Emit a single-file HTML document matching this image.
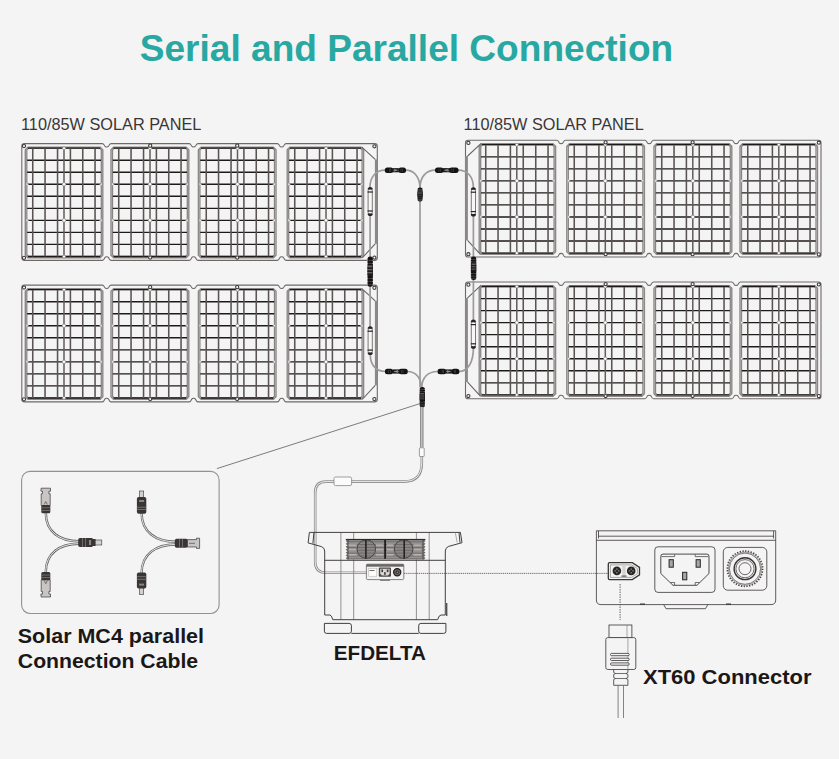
<!DOCTYPE html><html><head><meta charset="utf-8"><style>
html,body{margin:0;padding:0;background:#f4f4f4;overflow:hidden;}
svg{display:block;}
.mo{fill:none;stroke:#8d8888;stroke-width:1.4;}
.mi{fill:none;stroke:#8a8585;stroke-width:1.3;}
.gh{fill:none;stroke:#1f1a1a;stroke-width:1.35;}
.gv{fill:none;stroke:#5a5454;stroke-width:1.55;}
.gc{fill:none;stroke:#625c5c;stroke-width:1.5;}
.nk{fill:#f8f8f8;stroke:#9a9595;stroke-width:0.5;}
.nd{fill:#fafafa;stroke:#8a8585;stroke-width:0.7;}
.fr{fill:none;stroke:#6e6969;stroke-width:1.1;}
.jb{fill:none;stroke:#6a6565;stroke-width:1.1;}
.jb2{fill:none;stroke:#8d8888;stroke-width:2.8;}
.gr{fill:#f4f4f4;stroke:#3a3535;stroke-width:1.05;}
.cb{fill:none;stroke:#9b9b9b;stroke-width:1.7;}
.ln{fill:none;stroke:#555;stroke-width:0.8;}
text{font-family:"Liberation Sans",sans-serif;}
</style></head><body>
<svg width="839" height="759" viewBox="0 0 839 759">
<rect width="839" height="759" fill="#f4f4f4"/>
<text x="139.78" y="61" font-size="36.5" font-weight="bold" fill="#28a8a2" textLength="533.41" lengthAdjust="spacingAndGlyphs">Serial and Parallel Connection</text>
<text x="21.01" y="130" font-size="15.7" fill="#3a3636" textLength="180.33" lengthAdjust="spacingAndGlyphs">110/85W SOLAR PANEL</text>
<text x="463.56" y="130" font-size="15.7" fill="#3a3636" textLength="180.18" lengthAdjust="spacingAndGlyphs">110/85W SOLAR PANEL</text>
<g id="pnl">
<path d="M24.4,143.6 L102.5,143.6 C103.7,143.6 104.1,144.6 104.8,146.1 C105.4,147.3 108,147.3 108.6,146.1 C109.3,144.6 109.7,143.6 110.9,143.6 L189.4,143.6 C190.6,143.6 191,144.6 191.7,146.1 C192.3,147.3 194.9,147.3 195.5,146.1 C196.2,144.6 196.6,143.6 197.8,143.6 L277.5,143.6 C278.7,143.6 279.1,144.6 279.8,146.1 C280.4,147.3 283,147.3 283.6,146.1 C284.3,144.6 284.7,143.6 285.9,143.6 L374.7,143.6 Q377.3,143.6 377.3,146.2 L377.3,257.8 Q377.3,260.4 374.7,260.4 L285.9,260.4 C284.7,260.4 284.3,259.4 283.6,257.7 C283,256.5 280.4,256.5 279.8,257.7 C279.1,259.4 278.7,260.4 277.5,260.4 L197.8,260.4 C196.6,260.4 196.2,259.4 195.5,257.7 C194.9,256.5 192.3,256.5 191.7,257.7 C191,259.4 190.6,260.4 189.4,260.4 L110.9,260.4 C109.7,260.4 109.3,259.4 108.6,257.7 C108,256.5 105.4,256.5 104.8,257.7 C104.1,259.4 103.7,260.4 102.5,260.4 L24.4,260.4 Q21.8,260.4 21.8,257.8 L21.8,146.2 Q21.8,143.6 24.4,143.6 Z" class="fr"/>
<path d="M27.9,147.2 L100.2,147.2 L102.8,149.8 L102.8,255.2 L100.2,257.8 L27.9,257.8 L25.3,255.2 L25.3,149.8 Z" class="mo"/>
<path d="M28.5,148.2 L99.6,148.2 L101.3,149.9 L101.3,254.8 L99.6,256.5 L28.5,256.5 L26.8,254.8 L26.8,149.9 Z" class="mi"/>
<path d="M27.1,160.2 H101 M27.1,172.23 H101 M27.1,184.26 H101 M27.1,196.29 H101 M27.1,208.32 H101 M27.1,220.35 H101 M27.1,232.38 H101 M27.1,244.41 H101 M27.9,148.05 H100.2 M27.9,256.45 H100.2" class="gh"/>
<path d="M32.75,148.6 V256.4 M45.05,148.6 V256.4 M57.55,148.6 V256.4 M70.4,148.6 V256.4 M82.75,148.6 V256.4 M95.05,148.6 V256.4" class="gv"/>
<path d="M64,148.6 V256.4" class="gc"/>
<circle cx="64" cy="148.2" r="1.5" class="nd"/>
<circle cx="64" cy="256.5" r="1.5" class="nd"/>
<circle cx="64" cy="184.26" r="1.8" class="nd"/>
<path d="M26.2,182.66 L28.7,184.26 L26.2,185.86 Z M101.9,182.66 L99.4,184.26 L101.9,185.86 Z" class="nk"/>
<circle cx="64" cy="220.35" r="1.8" class="nd"/>
<path d="M26.2,218.75 L28.7,220.35 L26.2,221.95 Z M101.9,218.75 L99.4,220.35 L101.9,221.95 Z" class="nk"/>
<path d="M113.6,147.2 L186.2,147.2 L188.8,149.8 L188.8,255.2 L186.2,257.8 L113.6,257.8 L111,255.2 L111,149.8 Z" class="mo"/>
<path d="M114.2,148.2 L185.6,148.2 L187.3,149.9 L187.3,254.8 L185.6,256.5 L114.2,256.5 L112.5,254.8 L112.5,149.9 Z" class="mi"/>
<path d="M112.8,160.2 H187 M112.8,172.23 H187 M112.8,184.26 H187 M112.8,196.29 H187 M112.8,208.32 H187 M112.8,220.35 H187 M112.8,232.38 H187 M112.8,244.41 H187 M113.6,148.05 H186.2 M113.6,256.45 H186.2" class="gh"/>
<path d="M118.75,148.6 V256.4 M131.05,148.6 V256.4 M143.55,148.6 V256.4 M156.4,148.6 V256.4 M168.75,148.6 V256.4 M181.05,148.6 V256.4" class="gv"/>
<path d="M150,148.6 V256.4" class="gc"/>
<circle cx="150" cy="148.2" r="1.5" class="nd"/>
<circle cx="150" cy="256.5" r="1.5" class="nd"/>
<circle cx="150" cy="184.26" r="1.8" class="nd"/>
<path d="M111.9,182.66 L114.4,184.26 L111.9,185.86 Z M187.9,182.66 L185.4,184.26 L187.9,185.86 Z" class="nk"/>
<circle cx="150" cy="220.35" r="1.8" class="nd"/>
<path d="M111.9,218.75 L114.4,220.35 L111.9,221.95 Z M187.9,218.75 L185.4,220.35 L187.9,221.95 Z" class="nk"/>
<path d="M201,147.2 L273.4,147.2 L276,149.8 L276,255.2 L273.4,257.8 L201,257.8 L198.4,255.2 L198.4,149.8 Z" class="mo"/>
<path d="M201.6,148.2 L272.8,148.2 L274.5,149.9 L274.5,254.8 L272.8,256.5 L201.6,256.5 L199.9,254.8 L199.9,149.9 Z" class="mi"/>
<path d="M200.2,160.2 H274.2 M200.2,172.23 H274.2 M200.2,184.26 H274.2 M200.2,196.29 H274.2 M200.2,208.32 H274.2 M200.2,220.35 H274.2 M200.2,232.38 H274.2 M200.2,244.41 H274.2 M201,148.05 H273.4 M201,256.45 H273.4" class="gh"/>
<path d="M206.25,148.6 V256.4 M218.55,148.6 V256.4 M231.05,148.6 V256.4 M243.9,148.6 V256.4 M256.25,148.6 V256.4 M268.55,148.6 V256.4" class="gv"/>
<path d="M237.5,148.6 V256.4" class="gc"/>
<circle cx="237.5" cy="148.2" r="1.5" class="nd"/>
<circle cx="237.5" cy="256.5" r="1.5" class="nd"/>
<circle cx="237.5" cy="184.26" r="1.8" class="nd"/>
<path d="M199.3,182.66 L201.8,184.26 L199.3,185.86 Z M275.1,182.66 L272.6,184.26 L275.1,185.86 Z" class="nk"/>
<circle cx="237.5" cy="220.35" r="1.8" class="nd"/>
<path d="M199.3,218.75 L201.8,220.35 L199.3,221.95 Z M275.1,218.75 L272.6,220.35 L275.1,221.95 Z" class="nk"/>
<path d="M289.8,147.2 L361,147.2 L363.6,149.8 L363.6,255.2 L361,257.8 L289.8,257.8 L287.2,255.2 L287.2,149.8 Z" class="mo"/>
<path d="M290.4,148.2 L360.4,148.2 L362.1,149.9 L362.1,254.8 L360.4,256.5 L290.4,256.5 L288.7,254.8 L288.7,149.9 Z" class="mi"/>
<path d="M289,160.2 H361.8 M289,172.23 H361.8 M289,184.26 H361.8 M289,196.29 H361.8 M289,208.32 H361.8 M289,220.35 H361.8 M289,232.38 H361.8 M289,244.41 H361.8 M289.8,148.05 H361 M289.8,256.45 H361" class="gh"/>
<path d="M294.75,148.6 V256.4 M307.05,148.6 V256.4 M319.55,148.6 V256.4 M332.4,148.6 V256.4 M344.75,148.6 V256.4 M357.05,148.6 V256.4" class="gv"/>
<path d="M326,148.6 V256.4" class="gc"/>
<circle cx="326" cy="148.2" r="1.5" class="nd"/>
<circle cx="326" cy="256.5" r="1.5" class="nd"/>
<circle cx="326" cy="184.26" r="1.8" class="nd"/>
<path d="M288.1,182.66 L290.6,184.26 L288.1,185.86 Z M362.7,182.66 L360.2,184.26 L362.7,185.86 Z" class="nk"/>
<circle cx="326" cy="220.35" r="1.8" class="nd"/>
<path d="M288.1,218.75 L290.6,220.35 L288.1,221.95 Z M362.7,218.75 L360.2,220.35 L362.7,221.95 Z" class="nk"/>
<path d="M376.3,159.4 V243.8" class="jb2"/>
<path d="M361.6,146.8 L375.2,159.4 M375.2,243.8 L362.2,258.0" class="jb"/>
<circle cx="24" cy="146.1" r="1.6" class="gr"/>
<circle cx="24" cy="257.8" r="1.6" class="gr"/>
<circle cx="150.2" cy="145.7" r="1.6" class="gr"/>
<circle cx="150.2" cy="257.6" r="1.6" class="gr"/>
<circle cx="237.2" cy="145.7" r="1.6" class="gr"/>
<circle cx="237.2" cy="257.6" r="1.6" class="gr"/>
<circle cx="374.4" cy="146.3" r="1.6" class="gr"/>
<circle cx="374.4" cy="257.6" r="1.6" class="gr"/>
</g>
<use href="#pnl" transform="translate(0,141.5)"/>
<use href="#pnl" transform="translate(842.8,-3.4) scale(-1,1)"/>
<use href="#pnl" transform="translate(842.8,138.4) scale(-1,1)"/>
<path d="M369.9,188 C369.9,177 375.5,170.2 385.5,170.2" class="cb"/>
<path d="M405.5,170.2 C414.5,170.2 420,177.5 420,188" class="cb"/>
<path d="M435.5,170.2 C425.5,170.2 420,177.5 420,188" class="cb"/>
<path d="M458,170.2 C467.5,170.2 473.4,176.5 473.4,188" class="cb"/>
<path d="M420,201 V387.5" class="cb"/>
<path d="M370.1,215 V257 M370.1,286 V327" class="cb"/>
<path d="M473.4,215 V257 M473.4,280 V320" class="cb"/>
<path d="M370.2,354 C370.2,365 376,371.5 385.5,371.5" class="cb"/>
<path d="M407.5,371.5 C415.5,371.5 421.2,377.5 421.2,387.5" class="cb"/>
<path d="M437.5,371.5 C428,371.5 421.8,377.5 421.8,387.5" class="cb"/>
<path d="M459,371.5 C468,371.5 473.4,362 473.4,348" class="cb"/>
<rect x="384.8" y="167.5" width="8.48" height="5.4" rx="2.5" fill="#151212"/>
<rect x="398.37" y="167.5" width="7.63" height="5.4" rx="2.5" fill="#151212"/>
<rect x="392.43" y="168.1" width="6.36" height="4.2" fill="#1e1a1a"/>
<rect x="389.04" y="168.6" width="0.5" height="3.2" fill="#5a5555"/>
<rect x="390.52" y="168.6" width="0.5" height="3.2" fill="#5a5555"/>
<rect x="400.7" y="168.6" width="0.5" height="3.2" fill="#5a5555"/>
<rect x="402.18" y="168.6" width="0.5" height="3.2" fill="#5a5555"/>
<path d="M393.92,169 L396.46,170.2 L393.92,171.4" fill="none" stroke="#a09c9c" stroke-width="0.7"/>
<rect x="393.28" y="169.8" width="4.24" height="0.8" fill="#a09c9c"/>
<rect x="449.1" y="167.5" width="9.4" height="5.4" rx="2.5" fill="#151212"/>
<rect x="435" y="167.5" width="8.46" height="5.4" rx="2.5" fill="#151212"/>
<rect x="442.99" y="168.1" width="7.05" height="4.2" fill="#1e1a1a"/>
<rect x="453.3" y="168.6" width="0.5" height="3.2" fill="#5a5555"/>
<rect x="451.65" y="168.6" width="0.5" height="3.2" fill="#5a5555"/>
<rect x="440.38" y="168.6" width="0.5" height="3.2" fill="#5a5555"/>
<rect x="438.73" y="168.6" width="0.5" height="3.2" fill="#5a5555"/>
<path d="M448.39,169 L445.57,170.2 L448.39,171.4" fill="none" stroke="#a09c9c" stroke-width="0.7"/>
<rect x="444.4" y="169.8" width="4.7" height="0.8" fill="#a09c9c"/>
<rect x="398.64" y="368.8" width="9.16" height="5.4" rx="2.5" fill="#151212"/>
<rect x="384.9" y="368.8" width="8.24" height="5.4" rx="2.5" fill="#151212"/>
<rect x="392.69" y="369.4" width="6.87" height="4.2" fill="#1e1a1a"/>
<rect x="402.72" y="369.9" width="0.5" height="3.2" fill="#5a5555"/>
<rect x="401.12" y="369.9" width="0.5" height="3.2" fill="#5a5555"/>
<rect x="390.12" y="369.9" width="0.5" height="3.2" fill="#5a5555"/>
<rect x="388.52" y="369.9" width="0.5" height="3.2" fill="#5a5555"/>
<path d="M397.95,370.3 L395.2,371.5 L397.95,372.7" fill="none" stroke="#a09c9c" stroke-width="0.7"/>
<rect x="394.06" y="371.1" width="4.58" height="0.8" fill="#a09c9c"/>
<rect x="437.5" y="368.8" width="8.76" height="5.4" rx="2.5" fill="#151212"/>
<rect x="451.52" y="368.8" width="7.88" height="5.4" rx="2.5" fill="#151212"/>
<rect x="445.38" y="369.4" width="6.57" height="4.2" fill="#1e1a1a"/>
<rect x="441.88" y="369.9" width="0.5" height="3.2" fill="#5a5555"/>
<rect x="443.41" y="369.9" width="0.5" height="3.2" fill="#5a5555"/>
<rect x="453.92" y="369.9" width="0.5" height="3.2" fill="#5a5555"/>
<rect x="455.46" y="369.9" width="0.5" height="3.2" fill="#5a5555"/>
<path d="M446.92,370.3 L449.55,371.5 L446.92,372.7" fill="none" stroke="#a09c9c" stroke-width="0.7"/>
<rect x="446.26" y="371.1" width="4.38" height="0.8" fill="#a09c9c"/>
<rect x="417.4" y="187.4" width="5.4" height="14.2" rx="2.5" fill="#151212"/>
<rect x="418" y="191.66" width="4.2" height="4.54" fill="#6a6565"/>
<rect x="417.4" y="192.51" width="5.4" height="0.94" fill="#1e1a1a"/>
<rect x="417.4" y="193.93" width="5.4" height="0.94" fill="#1e1a1a"/>
<rect x="417.4" y="195.35" width="5.4" height="0.94" fill="#1e1a1a"/>
<rect x="418.2" y="189.1" width="3.8" height="0.6" fill="#5a5555"/>
<rect x="417.4" y="189" width="0.5" height="0.8" fill="#f4f4f4"/><rect x="422.3" y="189" width="0.5" height="0.8" fill="#f4f4f4"/>
<rect x="418.2" y="190.52" width="3.8" height="0.6" fill="#5a5555"/>
<rect x="417.4" y="190.42" width="0.5" height="0.8" fill="#f4f4f4"/><rect x="422.3" y="190.42" width="0.5" height="0.8" fill="#f4f4f4"/>
<rect x="418.2" y="197.62" width="3.8" height="0.6" fill="#5a5555"/>
<rect x="417.4" y="197.52" width="0.5" height="0.8" fill="#f4f4f4"/><rect x="422.3" y="197.52" width="0.5" height="0.8" fill="#f4f4f4"/>
<rect x="418.2" y="199.04" width="3.8" height="0.6" fill="#5a5555"/>
<rect x="417.4" y="198.94" width="0.5" height="0.8" fill="#f4f4f4"/><rect x="422.3" y="198.94" width="0.5" height="0.8" fill="#f4f4f4"/>
<rect x="418.2" y="200.32" width="3.8" height="0.6" fill="#5a5555"/>
<rect x="417.4" y="200.22" width="0.5" height="0.8" fill="#f4f4f4"/><rect x="422.3" y="200.22" width="0.5" height="0.8" fill="#f4f4f4"/>
<rect x="419.6" y="386.9" width="5.4" height="20.7" rx="2.5" fill="#151212"/>
<rect x="420.2" y="393.11" width="4.2" height="6.62" fill="#6a6565"/>
<rect x="419.6" y="394.35" width="5.4" height="1.23" fill="#1e1a1a"/>
<rect x="419.6" y="396.42" width="5.4" height="1.23" fill="#1e1a1a"/>
<rect x="419.6" y="398.49" width="5.4" height="1.23" fill="#1e1a1a"/>
<rect x="420.4" y="389.38" width="3.8" height="0.6" fill="#5a5555"/>
<rect x="419.6" y="389.28" width="0.5" height="0.8" fill="#f4f4f4"/><rect x="424.5" y="389.28" width="0.5" height="0.8" fill="#f4f4f4"/>
<rect x="420.4" y="391.45" width="3.8" height="0.6" fill="#5a5555"/>
<rect x="419.6" y="391.35" width="0.5" height="0.8" fill="#f4f4f4"/><rect x="424.5" y="391.35" width="0.5" height="0.8" fill="#f4f4f4"/>
<rect x="420.4" y="401.8" width="3.8" height="0.6" fill="#5a5555"/>
<rect x="419.6" y="401.7" width="0.5" height="0.8" fill="#f4f4f4"/><rect x="424.5" y="401.7" width="0.5" height="0.8" fill="#f4f4f4"/>
<rect x="420.4" y="403.87" width="3.8" height="0.6" fill="#5a5555"/>
<rect x="419.6" y="403.77" width="0.5" height="0.8" fill="#f4f4f4"/><rect x="424.5" y="403.77" width="0.5" height="0.8" fill="#f4f4f4"/>
<rect x="420.4" y="405.74" width="3.8" height="0.6" fill="#5a5555"/>
<rect x="419.6" y="405.64" width="0.5" height="0.8" fill="#f4f4f4"/><rect x="424.5" y="405.64" width="0.5" height="0.8" fill="#f4f4f4"/>
<rect x="367.5" y="256.4" width="5.4" height="30.3" rx="2.5" fill="#151212"/>
<rect x="368.1" y="265.49" width="4.2" height="9.7" fill="#6a6565"/>
<rect x="367.5" y="267.31" width="5.4" height="1.66" fill="#1e1a1a"/>
<rect x="367.5" y="270.34" width="5.4" height="1.66" fill="#1e1a1a"/>
<rect x="367.5" y="273.37" width="5.4" height="1.66" fill="#1e1a1a"/>
<rect x="368.3" y="260.04" width="3.8" height="0.6" fill="#5a5555"/>
<rect x="367.5" y="259.94" width="0.5" height="0.8" fill="#f4f4f4"/><rect x="372.4" y="259.94" width="0.5" height="0.8" fill="#f4f4f4"/>
<rect x="368.3" y="263.07" width="3.8" height="0.6" fill="#5a5555"/>
<rect x="367.5" y="262.97" width="0.5" height="0.8" fill="#f4f4f4"/><rect x="372.4" y="262.97" width="0.5" height="0.8" fill="#f4f4f4"/>
<rect x="368.3" y="278.22" width="3.8" height="0.6" fill="#5a5555"/>
<rect x="367.5" y="278.12" width="0.5" height="0.8" fill="#f4f4f4"/><rect x="372.4" y="278.12" width="0.5" height="0.8" fill="#f4f4f4"/>
<rect x="368.3" y="281.25" width="3.8" height="0.6" fill="#5a5555"/>
<rect x="367.5" y="281.15" width="0.5" height="0.8" fill="#f4f4f4"/><rect x="372.4" y="281.15" width="0.5" height="0.8" fill="#f4f4f4"/>
<rect x="368.3" y="283.97" width="3.8" height="0.6" fill="#5a5555"/>
<rect x="367.5" y="283.87" width="0.5" height="0.8" fill="#f4f4f4"/><rect x="372.4" y="283.87" width="0.5" height="0.8" fill="#f4f4f4"/>
<rect x="470.9" y="256.4" width="5.4" height="23.6" rx="2.5" fill="#151212"/>
<rect x="471.5" y="263.48" width="4.2" height="7.55" fill="#6a6565"/>
<rect x="470.9" y="264.9" width="5.4" height="1.36" fill="#1e1a1a"/>
<rect x="470.9" y="267.26" width="5.4" height="1.36" fill="#1e1a1a"/>
<rect x="470.9" y="269.62" width="5.4" height="1.36" fill="#1e1a1a"/>
<rect x="471.7" y="259.23" width="3.8" height="0.6" fill="#5a5555"/>
<rect x="470.9" y="259.13" width="0.5" height="0.8" fill="#f4f4f4"/><rect x="475.8" y="259.13" width="0.5" height="0.8" fill="#f4f4f4"/>
<rect x="471.7" y="261.59" width="3.8" height="0.6" fill="#5a5555"/>
<rect x="470.9" y="261.49" width="0.5" height="0.8" fill="#f4f4f4"/><rect x="475.8" y="261.49" width="0.5" height="0.8" fill="#f4f4f4"/>
<rect x="471.7" y="273.39" width="3.8" height="0.6" fill="#5a5555"/>
<rect x="470.9" y="273.29" width="0.5" height="0.8" fill="#f4f4f4"/><rect x="475.8" y="273.29" width="0.5" height="0.8" fill="#f4f4f4"/>
<rect x="471.7" y="275.75" width="3.8" height="0.6" fill="#5a5555"/>
<rect x="470.9" y="275.65" width="0.5" height="0.8" fill="#f4f4f4"/><rect x="475.8" y="275.65" width="0.5" height="0.8" fill="#f4f4f4"/>
<rect x="471.7" y="277.88" width="3.8" height="0.6" fill="#5a5555"/>
<rect x="470.9" y="277.78" width="0.5" height="0.8" fill="#f4f4f4"/><rect x="475.8" y="277.78" width="0.5" height="0.8" fill="#f4f4f4"/>
<rect x="368.1" y="189" width="4.2" height="25" rx="1.8" fill="#f7f7f7" stroke="#7d7878" stroke-width="1"/>
<path d="M367.6,189.6 A2.6,2.6 0 0 1 372.8,189.6 Z" fill="#2a2525"/>
<path d="M367.6,213.4 A2.6,2.6 0 0 0 372.8,213.4 Z" fill="#2a2525"/>
<rect x="367.6" y="191.4" width="5.2" height="1.2" fill="#2a2525"/>
<rect x="367.6" y="210.4" width="5.2" height="1.2" fill="#2a2525"/>
<rect x="471.3" y="189.2" width="4.2" height="25.4" rx="1.8" fill="#f7f7f7" stroke="#7d7878" stroke-width="1"/>
<path d="M470.8,189.8 A2.6,2.6 0 0 1 476,189.8 Z" fill="#2a2525"/>
<path d="M470.8,214 A2.6,2.6 0 0 0 476,214 Z" fill="#2a2525"/>
<rect x="470.8" y="191.6" width="5.2" height="1.2" fill="#2a2525"/>
<rect x="470.8" y="211" width="5.2" height="1.2" fill="#2a2525"/>
<rect x="368.1" y="328.2" width="4.2" height="24.9" rx="1.8" fill="#f7f7f7" stroke="#7d7878" stroke-width="1"/>
<path d="M367.6,328.8 A2.6,2.6 0 0 1 372.8,328.8 Z" fill="#2a2525"/>
<path d="M367.6,352.5 A2.6,2.6 0 0 0 372.8,352.5 Z" fill="#2a2525"/>
<rect x="367.6" y="330.6" width="5.2" height="1.2" fill="#2a2525"/>
<rect x="367.6" y="349.5" width="5.2" height="1.2" fill="#2a2525"/>
<rect x="471.3" y="321.6" width="4.2" height="25.2" rx="1.8" fill="#f7f7f7" stroke="#7d7878" stroke-width="1"/>
<path d="M470.8,322.2 A2.6,2.6 0 0 1 476,322.2 Z" fill="#2a2525"/>
<path d="M470.8,346.2 A2.6,2.6 0 0 0 476,346.2 Z" fill="#2a2525"/>
<rect x="470.8" y="324" width="5.2" height="1.2" fill="#2a2525"/>
<rect x="470.8" y="343.2" width="5.2" height="1.2" fill="#2a2525"/>
<path d="M421.8,407 V463 Q421.8,481.6 404,481.6 H326 Q315.2,481.6 315.2,492.4 V562 Q315.2,572.7 326,572.7 H368" fill="none" stroke="#8f8f8f" stroke-width="2.6"/>
<path d="M421.8,407 V463 Q421.8,481.6 404,481.6 H326 Q315.2,481.6 315.2,492.4 V562 Q315.2,572.7 326,572.7 H368" fill="none" stroke="#f6f6f6" stroke-width="0.9"/>
<path d="M421.8,407 V447" fill="none" stroke="#8a8a8a" stroke-width="3.4"/>
<path d="M421.8,407 V447" fill="none" stroke="#d0d0d0" stroke-width="1.1"/>
<rect x="419.4" y="447.8" width="4.8" height="8.7" rx="0.6" fill="#fbfbfb" stroke="#8a8585" stroke-width="0.8"/>
<rect x="334" y="477" width="17.6" height="8.6" rx="1.6" fill="#fbfbfb" stroke="#8a8585" stroke-width="0.8"/>
<path d="M420,403.6 L216.9,468.6" fill="none" stroke="#4a4545" stroke-width="0.7"/>
<path d="M340.9,532.4 V619.7 M353.7,532.4 V619.7 M416.4,532.4 V619.7 M429.2,532.4 V619.7" fill="none" stroke="#8a8585" stroke-width="0.9"/>
<path d="M309.4,532.4 H460.4 M309.4,532.4 L308.1,542.9 L321.5,546.6 Q324.7,548 324.7,551 V615 H330 Q331.5,615 332.8,619.7 H437.6 Q439,615 441,615 H445.3 V551 Q445.3,548 448.3,546.5 L462,542.7 L460.4,532.4" fill="none" stroke="#3a3535" stroke-width="0.95"/>
<path d="M313.9,532.6 L312.9,543.6 M459,532.6 L460,542.6" fill="none" stroke="#3a3535" stroke-width="0.95"/>
<path d="M455.3,532.6 L457.2,542.6" fill="none" stroke="#9a9595" stroke-width="0.8"/>
<path d="M324.7,560.3 H445.3" fill="none" stroke="#3a3535" stroke-width="0.95"/>
<path d="M351.4,633.4 H418.7" fill="none" stroke="#3a3535" stroke-width="0.95"/>
<path d="M324.4,623.4 H349.2 Q351.4,623.4 351.4,625.6 V631.2 Q351.4,633.4 349.2,633.4 H326.6 Q324.4,633.4 324.4,631.2 Z" fill="none" stroke="#3a3535" stroke-width="0.95"/>
<path d="M420.9,623.4 H445.9 V631.2 Q445.9,633.4 443.7,633.4 H420.9 Q418.7,633.4 418.7,631.2 V625.6 Q418.7,623.4 420.9,623.4 Z" fill="none" stroke="#3a3535" stroke-width="0.95"/>
<rect x="446" y="603" width="1.4" height="13" fill="#555"/>
<rect x="347" y="539.4" width="77.2" height="20.2" fill="#959191"/>
<path d="M348,539.6 L345.6,541 L348,542.45 L345.6,543.85 L348,545.3 L345.6,546.7 L348,548.15 L345.6,549.55 L348,551 L345.6,552.4 L348,553.85 L345.6,555.25 L348,556.7 L345.6,558.1 L348,559.55 L349,559.6 L349,539.6 Z" fill="#6a6565"/>
<path d="M423.2,539.6 L425.6,541 L423.2,542.45 L425.6,543.85 L423.2,545.3 L425.6,546.7 L423.2,548.15 L425.6,549.55 L423.2,551 L425.6,552.4 L423.2,553.85 L425.6,555.25 L423.2,556.7 L425.6,558.1 L423.2,559.55 L422.2,559.6 L422.2,539.6 Z" fill="#6a6565"/>
<circle cx="366.3" cy="549.1" r="9.3" fill="#8a8686" stroke="#3f3a3a" stroke-width="0.9"/>
<circle cx="403.6" cy="549.1" r="9.3" fill="#8a8686" stroke="#3f3a3a" stroke-width="0.9"/>
<rect x="346.5" y="541.3" width="78.2" height="0.9" fill="#5f5a5a" opacity="0.7"/>
<rect x="346.5" y="544.15" width="78.2" height="0.9" fill="#5f5a5a" opacity="0.7"/>
<rect x="346.5" y="547" width="78.2" height="0.9" fill="#5f5a5a" opacity="0.7"/>
<rect x="346.5" y="549.85" width="78.2" height="0.9" fill="#5f5a5a" opacity="0.7"/>
<rect x="346.5" y="552.7" width="78.2" height="0.9" fill="#5f5a5a" opacity="0.7"/>
<rect x="346.5" y="555.55" width="78.2" height="0.9" fill="#5f5a5a" opacity="0.7"/>
<rect x="346.5" y="558.4" width="78.2" height="0.9" fill="#5f5a5a" opacity="0.7"/>
<rect x="348.5" y="544.5" width="8" height="1" fill="#cfcbcb"/>
<rect x="376" y="544.5" width="7.5" height="1" fill="#cfcbcb"/>
<rect x="387" y="544.5" width="6.5" height="1" fill="#cfcbcb"/>
<rect x="413.5" y="544.5" width="8" height="1" fill="#cfcbcb"/>
<rect x="348.5" y="549.4" width="8" height="1" fill="#cfcbcb"/>
<rect x="376" y="549.4" width="7.5" height="1" fill="#cfcbcb"/>
<rect x="387" y="549.4" width="6.5" height="1" fill="#cfcbcb"/>
<rect x="413.5" y="549.4" width="8" height="1" fill="#cfcbcb"/>
<rect x="348.5" y="554.4" width="8" height="1" fill="#cfcbcb"/>
<rect x="376" y="554.4" width="7.5" height="1" fill="#cfcbcb"/>
<rect x="387" y="554.4" width="6.5" height="1" fill="#cfcbcb"/>
<rect x="413.5" y="554.4" width="8" height="1" fill="#cfcbcb"/>
<rect x="345.8" y="538.9" width="79.6" height="1.2" fill="#2f2a2a"/>
<rect x="365.15" y="540" width="1.5" height="18.6" fill="#231e1e"/>
<rect x="403.45" y="540" width="1.5" height="18.6" fill="#231e1e"/>
<rect x="384.2" y="540" width="1.8" height="18.8" fill="#231e1e"/>
<rect x="366.4" y="564.2" width="37.4" height="15.4" rx="1.3" fill="#f2f2f2" stroke="#6a6565" stroke-width="0.8"/>
<rect x="366.4" y="564.2" width="37.4" height="2.5" fill="#6a6565"/>
<rect x="368.8" y="568.4" width="8" height="7.8" fill="#fcfcfc" stroke="#aaa" stroke-width="0.5"/>
<rect x="369.5" y="570" width="5" height="0.8" fill="#444"/>
<rect x="378.8" y="567.4" width="12.2" height="9.3" rx="1" fill="#4a4545"/>
<path d="M380.2,568.8 H389.6 V573.8 L388,575.4 H381.8 L380.2,573.8 Z" fill="#d9d5d5"/>
<rect x="381.4" y="569.5" width="1.6" height="2.6" fill="#3a3535"/><rect x="386.8" y="569.5" width="1.6" height="2.6" fill="#3a3535"/><rect x="384.1" y="572.2" width="1.6" height="2.6" fill="#3a3535"/>
<circle cx="397.2" cy="572.2" r="3.6" fill="#6a6565" stroke="#1e1a1a" stroke-width="1.2"/>
<circle cx="397.2" cy="572.2" r="1.6" fill="#2e2929"/>
<circle cx="397.2" cy="572.2" r="0.6" fill="#cfcbcb"/>
<rect x="380" y="579.6" width="10" height="1.4" fill="#8a8585"/>
<path d="M404,573.4 H611" fill="none" stroke="#3a3535" stroke-width="0.7" stroke-dasharray="1.3,0.8"/>
<path d="M596.4,530.8 H775.7 V600 Q775.7,604.6 771,604.6 H601 Q596.4,604.6 596.4,600 Z" fill="none" stroke="#3a3535" stroke-width="0.8"/>
<path d="M598.5,536.2 H773.6 M596.4,540.3 H775.7" fill="none" stroke="#3a3535" stroke-width="0.8"/>
<path d="M598.5,531 V538.5 M773.6,531 V538.5" fill="none" stroke="#3a3535" stroke-width="0.8"/>
<path d="M663.7,604.6 L666,608.7 H705.5 L707.8,604.6" fill="none" stroke="#3a3535" stroke-width="0.8"/>
<path d="M640,604.2 H645 M726,604.2 H731" fill="none" stroke="#3a3535" stroke-width="1.2"/>
<path d="M608.3,564 Q608.3,562.6 609.7,562.6 H632.3 L639.5,567.4 V574.8 L632.3,579.6 H609.7 Q608.3,579.6 608.3,578.2 Z" fill="#f4f4f4" stroke="#3a3535" stroke-width="1.3"/>
<path d="M610.4,564.9 H631.6 L637.4,568.6 V573.6 L631.6,577.4 H610.4 Z" fill="none" stroke="#8a8585" stroke-width="0.7"/>
<circle cx="616.9" cy="570.9" r="4.3" fill="#2a2525"/>
<path d="M614.4,570.9 h5 M616.9,568.4 v5" stroke="#c8c4c4" stroke-width="0.8"/>
<circle cx="616.9" cy="570.9" r="1.2" fill="#2a2525"/>
<circle cx="631.2" cy="570.9" r="4.3" fill="#2a2525"/>
<path d="M628.7,570.9 h5 M631.2,568.4 v5" stroke="#c8c4c4" stroke-width="0.8"/>
<circle cx="631.2" cy="570.9" r="1.2" fill="#2a2525"/>
<rect x="622.3" y="566" width="3.4" height="9.5" fill="#d6d2d2"/>
<rect x="621.5" y="575.5" width="5" height="1.2" fill="#5a5555"/>
<rect x="654.8" y="546.8" width="60.2" height="45.6" rx="3.2" fill="none" stroke="#3a3535" stroke-width="0.8"/>
<path d="M663,554.1 H706.8 Q709,554.1 709,556.3 V573.5 L697,585.3 H673 L660.8,573.5 V556.3 Q660.8,554.1 663,554.1 Z" fill="none" stroke="#3a3535" stroke-width="0.9"/>
<path d="M661.5,556.6 H674.6 V554.4 M708.3,556.6 H695.2 V554.4" fill="none" stroke="#3a3535" stroke-width="0.7"/>
<path d="M670.5,582.5 L674.6,582.5 V585 M699.4,582.5 L695.2,582.5 V585" fill="none" stroke="#3a3535" stroke-width="0.7"/>
<rect x="669.1" y="559.7" width="4.2" height="7.5" fill="#a9a5a5" stroke="#2a2525" stroke-width="1"/>
<rect x="696.1" y="559.7" width="4.2" height="7.5" fill="#a9a5a5" stroke="#2a2525" stroke-width="1"/>
<rect x="682.6" y="572.3" width="4.2" height="7.5" fill="#a9a5a5" stroke="#2a2525" stroke-width="1"/>
<rect x="723.3" y="547.4" width="43.5" height="42.8" rx="4.5" fill="none" stroke="#3a3535" stroke-width="0.8"/>
<circle cx="745" cy="568.7" r="17.6" fill="none" stroke="#4a4545" stroke-width="1.7" stroke-dasharray="1.35,1.4"/>
<circle cx="745" cy="568.7" r="16.5" fill="none" stroke="#6a6565" stroke-width="0.6"/>
<circle cx="745" cy="568.7" r="15.6" fill="none" stroke="#4a4545" stroke-width="0.7"/>
<circle cx="745" cy="568.7" r="10.9" fill="none" stroke="#3a3535" stroke-width="1.4"/>
<circle cx="745" cy="568.7" r="9.1" fill="none" stroke="#4a4545" stroke-width="0.8"/>
<circle cx="745" cy="568.7" r="6.0" fill="none" stroke="#4a4545" stroke-width="0.8"/>
<path d="M620.1,584 V620" fill="none" stroke="#4a4545" stroke-width="0.8" stroke-dasharray="1.5,1"/>
<rect x="609" y="625" width="22.9" height="12.4" fill="none" stroke="#3a3535" stroke-width="0.8"/>
<path d="M627,625 V637.4" fill="none" stroke="#8a8585" stroke-width="0.7"/>
<rect x="605.8" y="637.6" width="30" height="31.9" rx="2" fill="#f4f4f4" stroke="#3a3535" stroke-width="0.8"/>
<path d="M627.9,637.6 V669.5" fill="none" stroke="#8a8585" stroke-width="0.7"/>
<rect x="610.5" y="653.4" width="18.7" height="2.3" rx="1.1" fill="#f4f4f4" stroke="#3a3535" stroke-width="0.8"/>
<rect x="610.5" y="658.2" width="18.7" height="2.3" rx="1.1" fill="#f4f4f4" stroke="#3a3535" stroke-width="0.8"/>
<rect x="610.5" y="662.9" width="18.7" height="2.3" rx="1.1" fill="#f4f4f4" stroke="#3a3535" stroke-width="0.8"/>
<path d="M613.7,669.5 V672.5 L615.5,673.5 L613.7,674.5 V677.5 L615.5,678.5 L613.7,679.5 V685.3 H627.9 V679.5 L626.1,678.5 L627.9,677.5 V674.5 L626.1,673.5 L627.9,672.5 V669.5" fill="none" stroke="#3a3535" stroke-width="0.8"/>
<path d="M615.2,673.5 H626.4 M615.2,678.5 H626.4" fill="none" stroke="#3a3535" stroke-width="0.7"/>
<path d="M618.1,685.3 V718 M623.5,685.3 V718" fill="none" stroke="#6a6565" stroke-width="0.8"/>
<rect x="21.6" y="471.4" width="197.5" height="142.1" rx="8.5" fill="none" stroke="#959090" stroke-width="1.1"/>
<path d="M45.8,513 C45.8,532 60,541.3 79,541.3" fill="none" stroke="#6a6565" stroke-width="2.4"/><path d="M45.8,513 C45.8,532 60,541.3 79,541.3" fill="none" stroke="#f4f4f4" stroke-width="0.9"/>
<path d="M45.8,572 C45.8,553 60,543.7 79,543.7" fill="none" stroke="#6a6565" stroke-width="2.4"/><path d="M45.8,572 C45.8,553 60,543.7 79,543.7" fill="none" stroke="#f4f4f4" stroke-width="0.9"/>
<path d="M141.6,513 C141.6,532 156,541.8 175.5,541.8" fill="none" stroke="#6a6565" stroke-width="2.4"/><path d="M141.6,513 C141.6,532 156,541.8 175.5,541.8" fill="none" stroke="#f4f4f4" stroke-width="0.9"/>
<path d="M141.6,573 C141.6,554 156,544.5 175.5,544.5" fill="none" stroke="#6a6565" stroke-width="2.4"/><path d="M141.6,573 C141.6,554 156,544.5 175.5,544.5" fill="none" stroke="#f4f4f4" stroke-width="0.9"/>
<path d="M41.1,488.2 h9.4 v3 h-1.6 v2.5 h1.3 V505.5 h-9 V493.7 h1.3 v-2.5 h-1.6 Z" fill="#c9c5c5" stroke="#3a3535" stroke-width="0.7"/>
<rect x="41.3" y="505" width="9" height="8.2" rx="1.5" fill="#3a3535"/>
<rect x="41.3" y="507.5" width="9" height="0.7" fill="#8a8585"/><rect x="41.3" y="510" width="9" height="0.7" fill="#8a8585"/>
<path d="M44.2,504.5 l1.6,-3 l1.6,3" fill="none" stroke="#3a3535" stroke-width="0.6"/>
<path d="M41.1,597 h9.4 v-3 h-1.6 v-2.5 h1.3 V579.7 h-9 V591.5 h1.3 v2.5 h-1.6 Z" fill="#c9c5c5" stroke="#3a3535" stroke-width="0.7"/>
<rect x="41.3" y="572" width="9" height="8.2" rx="1.5" fill="#3a3535"/>
<rect x="41.3" y="574.7" width="9" height="0.7" fill="#8a8585"/><rect x="41.3" y="577.2" width="9" height="0.7" fill="#8a8585"/>
<path d="M44.2,580.7 l1.6,3 l1.6,-3" fill="none" stroke="#3a3535" stroke-width="0.6"/>
<rect x="139.5" y="491" width="4.2" height="7" fill="#d5d1d1" stroke="#3a3535" stroke-width="0.6"/>
<rect x="136.9" y="497" width="9.4" height="16.8" rx="1.8" fill="#3a3535"/>
<rect x="136.9" y="506.8" width="9.4" height="0.7" fill="#8a8585"/><rect x="136.9" y="509.3" width="9.4" height="0.7" fill="#8a8585"/>
<rect x="139.1" y="500" width="5" height="2" fill="#8a8585"/>
<rect x="139.5" y="587.6" width="4.2" height="7" fill="#d5d1d1" stroke="#3a3535" stroke-width="0.6"/>
<rect x="136.9" y="572.4" width="9.4" height="16.2" rx="1.8" fill="#3a3535"/>
<rect x="136.9" y="576.4" width="9.4" height="0.7" fill="#8a8585"/><rect x="136.9" y="578.9" width="9.4" height="0.7" fill="#8a8585"/>
<rect x="139.1" y="583.6" width="5" height="2" fill="#8a8585"/>
<rect x="78.2" y="538" width="15" height="9" rx="1.8" fill="#3a3535"/>
<rect x="82" y="538" width="0.7" height="9" fill="#8a8585"/><rect x="85" y="538" width="0.7" height="9" fill="#8a8585"/><rect x="89" y="540" width="2" height="5" fill="#8a8585"/>
<rect x="93" y="540" width="8.8" height="5" fill="#d5d1d1" stroke="#3a3535" stroke-width="0.6"/>
<rect x="93" y="539" width="2.6" height="7" fill="#3a3535"/>
<rect x="174.8" y="538.8" width="13" height="9" rx="1.8" fill="#3a3535"/>
<rect x="179" y="538.8" width="0.7" height="9" fill="#8a8585"/><rect x="182" y="538.8" width="0.7" height="9" fill="#8a8585"/>
<path d="M187.5,539.6 H196.5 V538.2 H199.6 V548.4 H196.5 V547 H187.5 Z" fill="#c9c5c5" stroke="#3a3535" stroke-width="0.7"/>
<path d="M189,543.3 H195" stroke="#3a3535" stroke-width="0.6"/>
<text x="17.81" y="643.3" font-size="19.8" font-weight="bold" fill="#1c1717" textLength="186.23" lengthAdjust="spacingAndGlyphs">Solar MC4 parallel</text>
<text x="17.83" y="668" font-size="19.8" font-weight="bold" fill="#1c1717" textLength="180.24" lengthAdjust="spacingAndGlyphs">Connection Cable</text>
<text x="333.76" y="660" font-size="19.8" font-weight="bold" fill="#1c1717" textLength="92.14" lengthAdjust="spacingAndGlyphs">EFDELTA</text>
<text x="642.99" y="684" font-size="19.8" font-weight="bold" fill="#1c1717" textLength="168.47" lengthAdjust="spacingAndGlyphs">XT60 Connector</text>
</svg></body></html>
